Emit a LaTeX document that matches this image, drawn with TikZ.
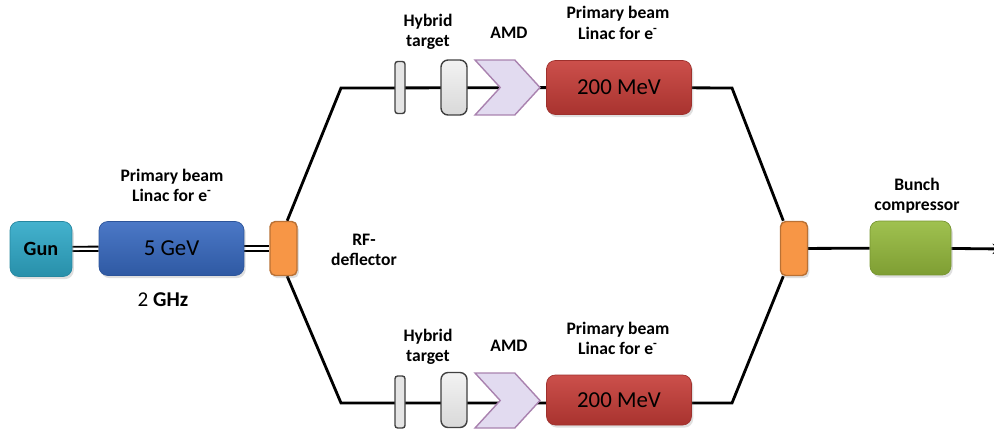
\documentclass[tikz,border=0pt]{standalone}
\usepackage{fontspec}
\setmainfont{Carlito}
\usepackage{xcolor}
\usepackage{tikz}
\usetikzlibrary{shapes,arrows,positioning,shadows,backgrounds}

\definecolor{gunc}{HTML}{2FA9C8}
\definecolor{bluec}{HTML}{3769C0}
\definecolor{orangec}{HTML}{F79646}
\definecolor{redc}{HTML}{C63C37}
\definecolor{greenc}{HTML}{95BA3C}
\definecolor{amdc}{HTML}{E2DBF0}

\begin{document}
\begin{tikzpicture}[
    x=0.02cm, y=-0.02cm,
    blk/.style={rounded corners=5pt, inner sep=0pt, align=center, drop shadow={opacity=0.25, shadow xshift=1pt, shadow yshift=-1.5pt}},
    gunbox/.style={blk, draw=gunc!80!black, top color=gunc!90!white, bottom color=gunc!85!black, minimum width=1.24cm, minimum height=1.1cm, font=\fontsize{11.5}{13}\selectfont\bfseries},
    linacbox/.style={blk, draw=#1!80!black, top color=#1!90!white, bottom color=#1!85!black, minimum width=2.9cm, minimum height=1.08cm, font=\fontsize{13}{15}\selectfont},
    split/.style={blk, rounded corners=3pt, draw=orangec!75!black, fill=orangec, line width=0.8pt, minimum width=0.54cm, minimum height=1.08cm},
    thin/.style={rounded corners=1.5pt, draw=black!75, fill=gray!20, line width=0.8pt, minimum width=0.2cm, minimum height=1.04cm, inner sep=0pt},
    tgt/.style={rounded corners=4pt, draw=black!75, top color=gray!10, bottom color=gray!30, line width=0.8pt, minimum width=0.52cm, minimum height=1.1cm, inner sep=0pt},
    amd/.style={signal, signal to=east, signal from=west, signal pointer angle=95, draw=amdc!60!violet!70!gray, fill=amdc, line width=0.8pt, minimum width=1.3cm, minimum height=1.1cm, inner sep=0pt},
    lbl/.style={align=center, font=\fontsize{10}{11.5}\selectfont\bfseries},
    beam/.style={line width=1.6pt},
    dbl/.style={double, double distance=1.3pt, line width=1.1pt},
]
\useasboundingbox (0,0) rectangle (994,433);
\clip (0,0) rectangle (994,433);

% Injector
\node[gunbox] (gun) at (41,249) {Gun};
\node[linacbox=bluec] (drive) at (171.5,248.5) {5 GeV};
\node[split] (rfd) at (283.5,248.5) {};
\node[lbl] (drivelbl) at (172,185) {Primary beam\\Linac for e\textsuperscript{-}};
\node[font=\fontsize{12}{14}\selectfont] (freq) at (163,300) {2 \textbf{GHz}};
\node[lbl] (rfdlbl) at (364,250) {RF-\\deflector};

% Upper branch
\node[thin] (tgtA) at (400,87.5) {};
\node[tgt] (tgtB) at (454,87.5) {};
\node[amd] (amdA) at (507.5,87.5) {};
\node[linacbox=redc] (linA) at (619,87.5) {200 MeV};
\node[lbl] (tgtlblA) at (428,32) {Hybrid\\target};
\node[lbl] (amdlblA) at (509,33) {AMD};
\node[lbl] (linlblA) at (618,23) {Primary beam\\Linac for e\textsuperscript{-}};

% Lower branch
\node[thin] (tgtB1) at (400,402) {};
\node[tgt] (tgtB2) at (454,400) {};
\node[amd] (amdB) at (507.5,400.5) {};
\node[linacbox=redc, minimum height=1.0cm] (linB) at (619,400) {200 MeV};
\node[lbl] (tgtlblB) at (428,347) {Hybrid\\target};
\node[lbl] (amdlblB) at (509,346) {AMD};
\node[lbl] (linlblB) at (618,338) {Primary beam\\Linac for e\textsuperscript{-}};

% Merger and compressor
\node[split] (merge) at (794,248.5) {};
\node[blk, draw=greenc!80!black, top color=greenc!90!white, bottom color=greenc!85!black, minimum width=1.62cm, minimum height=1.08cm] (bc) at (910.5,248) {};
\node[lbl] (bclbl) at (917,196) {Bunch\\compressor};

% Bends
\coordinate (ul) at (341,88);
\coordinate (ll) at (341,403);
\coordinate (ur) at (732,88);
\coordinate (lr) at (732,403);
\coordinate (out) at (1003,249);

% Beam lines
\begin{scope}[on background layer]
\draw[dbl] (gun) -- (drive);
\draw[dbl] (drive) -- (rfd);
\draw[beam] (rfd.north east) ++(-6pt,0) -- (ul) -- (linA);
\draw[beam] (rfd.south east) ++(-6pt,0) -- (ll) -- (linB.west |- ll);
\draw[beam] (linA) -- (ur) -- ([xshift=2pt]merge.north west);
\draw[beam] (linB.east |- lr) -- (lr) -- ([xshift=2pt]merge.south west);
\draw[beam] (merge) -- (bc);
\draw[beam, -stealth] (bc) -- (out);
\end{scope}
\end{tikzpicture}
\end{document}
